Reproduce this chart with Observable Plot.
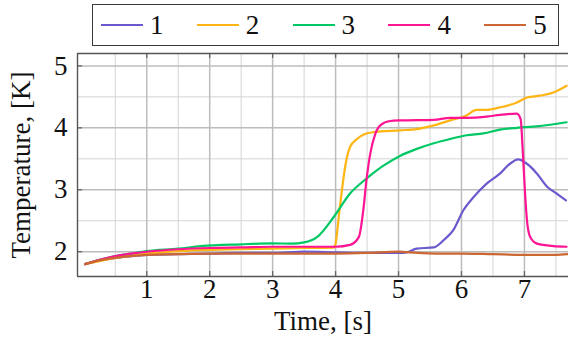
<!DOCTYPE html>
<html>
<head>
<meta charset="utf-8">
<script src="https://cdn.jsdelivr.net/npm/d3@7"></script>
<script src="https://cdn.jsdelivr.net/npm/@observablehq/plot@0.6"></script>
<style>
  html, body { margin: 0; padding: 0; background: #fff; }
  #wrap { position: relative; width: 568px; height: 351px; overflow: hidden; font-family: 'Liberation Serif', 'Times New Roman', serif; }
  #legend { position: absolute; left: 92px; top: 4px; width: 465px; height: 40px; border: 1.4px solid #3a3a3a; background: #fff; box-sizing: content-box; }
  .item { position: absolute; top: 0; height: 40px; display: flex; align-items: center; }
  .sw { width: 42px; height: 2.2px; margin-right: 7px; }
  .lb { font-size: 27px; color: #111; line-height: 1; }
  svg text { font-family: 'Liberation Serif', 'Times New Roman', serif; }
</style>
</head>
<body>
<div id="wrap"><div id="chart"></div><div id="legend"></div></div>
<script>
const seriesNames = ["1", "2", "3", "4", "5"];
const seriesColors = ["#6a5acd", "#ffb514", "#00c864", "#ff1493", "#cc6633"];

const t1 = [0.02,0.25,0.5,0.75,1,1.5,2,2.5,3,3.5,4,4.5,5.0,5.13,5.29,5.56,5.72,5.87,6.03,6.19,6.40,6.61,6.77,6.90,7.04,7.20,7.36,7.51,7.66];
const v1 = [1.80,1.86,1.90,1.93,1.95,1.96,1.97,1.98,1.98,2.00,1.99,1.98,1.98,1.99,2.05,2.07,2.19,2.35,2.67,2.88,3.10,3.26,3.42,3.49,3.42,3.26,3.05,2.94,2.83];

const t2 = [0.02,0.5,1,1.5,2,2.5,3,3.5,3.97,4.0,4.05,4.10,4.16,4.23,4.34,4.44,4.6,5.03,5.29,5.56,5.82,6.08,6.24,6.40,6.61,6.88,7.04,7.25,7.46,7.67];
const v2 = [1.80,1.90,1.97,2.01,2.03,2.04,2.05,2.06,2.065,2.13,2.56,2.99,3.42,3.69,3.82,3.89,3.93,3.96,3.98,4.04,4.12,4.20,4.29,4.29,4.33,4.41,4.49,4.52,4.57,4.68];

const t3 = [0.02,0.25,0.5,0.75,1,1.5,1.86,2.5,3,3.3,3.5,3.71,3.97,4.23,4.49,4.76,5.03,5.29,5.56,5.82,6.08,6.35,6.61,6.88,7.14,7.41,7.67];
const v3 = [1.80,1.87,1.93,1.97,2.01,2.05,2.09,2.12,2.135,2.13,2.15,2.24,2.56,2.94,3.18,3.39,3.55,3.66,3.75,3.82,3.88,3.91,3.97,4.00,4.02,4.05,4.09];

const t4 = [0.02,0.25,0.5,0.75,1,1.5,2,2.5,3,3.5,4,4.23,4.37,4.44,4.49,4.55,4.63,4.71,4.87,5.03,5.56,5.82,6.08,6.40,6.61,6.88,6.94,6.97,7.01,7.04,7.09,7.20,7.46,7.67];
const v4 = [1.80,1.87,1.93,1.97,2.00,2.04,2.06,2.07,2.08,2.08,2.08,2.11,2.24,2.67,3.15,3.58,3.90,4.04,4.11,4.12,4.13,4.16,4.16,4.18,4.21,4.23,4.14,3.69,2.94,2.51,2.24,2.13,2.09,2.08];

const t5 = [0.02,0.25,0.5,0.75,1,1.5,2,2.5,3,3.5,4,4.5,5.0,5.3,5.6,6,6.5,7,7.5,7.68];
const v5 = [1.80,1.86,1.90,1.93,1.95,1.96,1.97,1.97,1.97,1.97,1.97,1.98,2.00,1.98,1.97,1.97,1.96,1.95,1.95,1.96];

const xTicks = [1,2,3,4,5,6,7];
const xMinor = [0.5,1.5,2.5,3.5,4.5,5.5,6.5,7.5];
const yTicks = [2,3,4,5];
const yMinor = [2.5,3.5,4.5];
const xDomain = [-0.1, 7.7];
const yDomain = [1.6, 5.2];

const times = [t1,t2,t3,t4,t5];
const vals = [v1,v2,v3,v4,v5];
const rows = [];
seriesNames.forEach((s, i) => times[i].forEach((t, j) => rows.push({series: s, t, v: vals[i][j]})));

const chart = Plot.plot({
  width: 568,
  height: 351,
  marginLeft: 77,
  marginRight: 0,
  marginTop: 53,
  marginBottom: 75,
  style: {fontFamily: "'Liberation Serif', 'Times New Roman', serif", fontSize: "27px", color: "#111", background: "transparent"},
  x: {domain: xDomain},
  y: {domain: yDomain},
  color: {domain: seriesNames, range: seriesColors},
  marks: [
    Plot.ruleX(xMinor, {stroke: "#d4d4d4", strokeWidth: 1}),
    Plot.ruleY(yMinor, {stroke: "#d4d4d4", strokeWidth: 1}),
    Plot.ruleX(xTicks, {stroke: "#bcbcbc", strokeWidth: 1.5}),
    Plot.ruleY(yTicks, {stroke: "#bcbcbc", strokeWidth: 1.5}),
    Plot.ruleX(xTicks, {y1: yDomain[0], y2: yDomain[0] + 0.08, stroke: "#666", strokeWidth: 1.3}),
    Plot.ruleX(xTicks, {y1: yDomain[1], y2: yDomain[1] - 0.08, stroke: "#666", strokeWidth: 1.3}),
    Plot.ruleY(yTicks, {x1: xDomain[0], x2: xDomain[0] + 0.08, stroke: "#666", strokeWidth: 1.3}),
    Plot.axisX({ticks: xTicks, tickSize: 0, tickPadding: 2, tickFormat: d => String(d), label: "Time, [s]", labelAnchor: "center", labelArrow: "none", labelOffset: 53, fontSize: 27}),
    Plot.axisY({ticks: yTicks, tickSize: 0, tickPadding: 10, tickFormat: d => String(d), label: "Temperature, [K]", labelAnchor: "center", labelArrow: "none", labelOffset: 67, fontSize: 27}),
    Plot.line(rows, {x: "t", y: "v", z: "series", stroke: "series", strokeWidth: 2.2, curve: "monotone-x"}),
    Plot.ruleX([xDomain[0]], {stroke: "#555", strokeWidth: 1.4}),
    Plot.ruleY([yDomain[0], yDomain[1]], {stroke: "#555", strokeWidth: 1.4})
  ]
});
document.getElementById("chart").appendChild(chart);

const legend = document.getElementById("legend");
seriesNames.forEach((s, i) => {
  const it = document.createElement("div");
  it.className = "item";
  it.style.left = (8 + i * 95.8) + "px";
  const sw = document.createElement("div");
  sw.className = "sw";
  sw.style.background = seriesColors[i];
  const lb = document.createElement("span");
  lb.className = "lb";
  lb.textContent = s;
  it.appendChild(sw); it.appendChild(lb);
  legend.appendChild(it);
});
</script>
</body>
</html>
